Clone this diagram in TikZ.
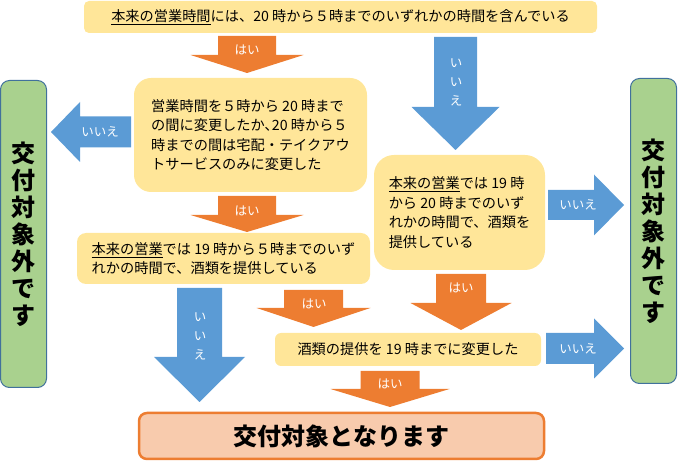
\documentclass[tikz,border=0pt]{standalone}
\usepackage{fontspec}
\setmainfont{Noto Sans CJK JP}
\usepackage{xcolor}
\definecolor{arrorange}{HTML}{ED7D31}
\definecolor{arrblue}{HTML}{5B9BD5}
\definecolor{boxyellow}{HTML}{FFE699}
\definecolor{boxgreen}{HTML}{A9D18E}
\definecolor{greenline}{HTML}{41719C}
\definecolor{goalfill}{HTML}{F8CBAD}
\tikzset{
  yellowbox/.style={fill=boxyellow,rounded corners=#1,inner sep=0pt,align=left,font=\fontsize{14.2}{19.5}\selectfont},
  greenbox/.style={fill=boxgreen,draw=greenline,line width=1pt,rounded corners=9pt,inner sep=0pt,align=center,minimum width=46pt,font=\fontsize{24}{27}\selectfont\bfseries},
  goalbox/.style={fill=goalfill,draw=arrorange,line width=2.5pt,rounded corners=8pt,inner sep=0pt,font=\fontsize{24}{28}\selectfont\bfseries},
  arrowtxt/.style={text=white,inner sep=0pt,align=center,font=\fontsize{12.5}{19}\selectfont}
}
\begin{document}
\begin{tikzpicture}[x=1pt,y=-1pt]
\useasboundingbox (0,0) rectangle (678,462);
\node[yellowbox=5pt,minimum width=513pt,minimum height=32pt] (q1) at (340.5,17) {\underline{本来の営業時間}には、20 時から５時までのいずれかの時間を含んでいる};
\node[yellowbox=17pt,minimum width=233pt,minimum height=114pt] (q2) at (250.5,135) {営業時間を５時から 20 時まで\\の間に変更したか､20 時から５\\時までの間は宅配・テイクアウ\\トサービスのみに変更した};
\node[yellowbox=9pt,minimum width=293pt,minimum height=51pt] (q3) at (223.5,258.5) {\underline{本来の営業}では 19 時から５時までのいず\\れかの時間で、酒類を提供している};
\node[yellowbox=20pt,minimum width=171pt,minimum height=115pt] (q4) at (459.5,212.5) {\underline{本来の営業}では 19 時\\から 20 時までのいず\\れかの時間で、酒類を\\提供している};
\node[yellowbox=6pt,minimum width=266pt,minimum height=33pt] (q5) at (408,349.5) {酒類の提供を 19 時までに変更した};
\node[greenbox,minimum height=307pt] (out1) at (23.5,234) {交\\付\\対\\象\\外\\で\\す};
\node[greenbox,minimum height=305pt] (out2) at (653.5,231) {交\\付\\対\\象\\外\\で\\す};
\node[goalbox,minimum width=405pt,minimum height=46pt] (goal) at (341.5,436) {交付対象となります};
\foreach \n/\cx/\ty/\by/\py/\sw/\hw/\col/\lx/\ly/\txt in {
  yes1/247/36/55/73/29/56.5/arrorange/247/50/{はい},
  yes2/247/196/215/232/29/56.5/arrorange/247/211/{はい},
  yes3/313.5/290/308/327/29.5/57/arrorange/314/304/{はい},
  yes4/461/274/303/330/25/50.5/arrorange/461/288/{はい},
  yes5/390/371/389/407/29.5/59.5/arrorange/390/384/{はい},
  no1/455.5/37/107/150/21.5/44/arrblue/456/82.5/{い\\い\\え},
  no2/199.5/288/357/402/22.5/45.5/arrblue/200/336/{い\\い\\え}}
{ \fill[\col] (\cx-\sw,\ty) -- (\cx+\sw,\ty) -- (\cx+\sw,\by) -- (\cx+\hw,\by) -- (\cx,\py) -- (\cx-\hw,\by) -- (\cx-\sw,\by) -- cycle;
  \node[arrowtxt] (\n) at (\lx,\ly) {\txt}; }
\foreach \n/\sx/\bx/\px/\cy/\sw/\hw/\lx in {no3/131/80/51/132/15.5/30/100, no4/548/594/624/205/15/30.5/578, no5/546/594/624/348.5/15.5/30/578}
{ \fill[arrblue] (\sx,\cy-\sw) -- (\bx,\cy-\sw) -- (\bx,\cy-\hw) -- (\px,\cy) -- (\bx,\cy+\hw) -- (\bx,\cy+\sw) -- (\sx,\cy+\sw) -- cycle;
  \node[arrowtxt] (\n) at (\lx,\cy) {いいえ}; }
\end{tikzpicture}
\end{document}
